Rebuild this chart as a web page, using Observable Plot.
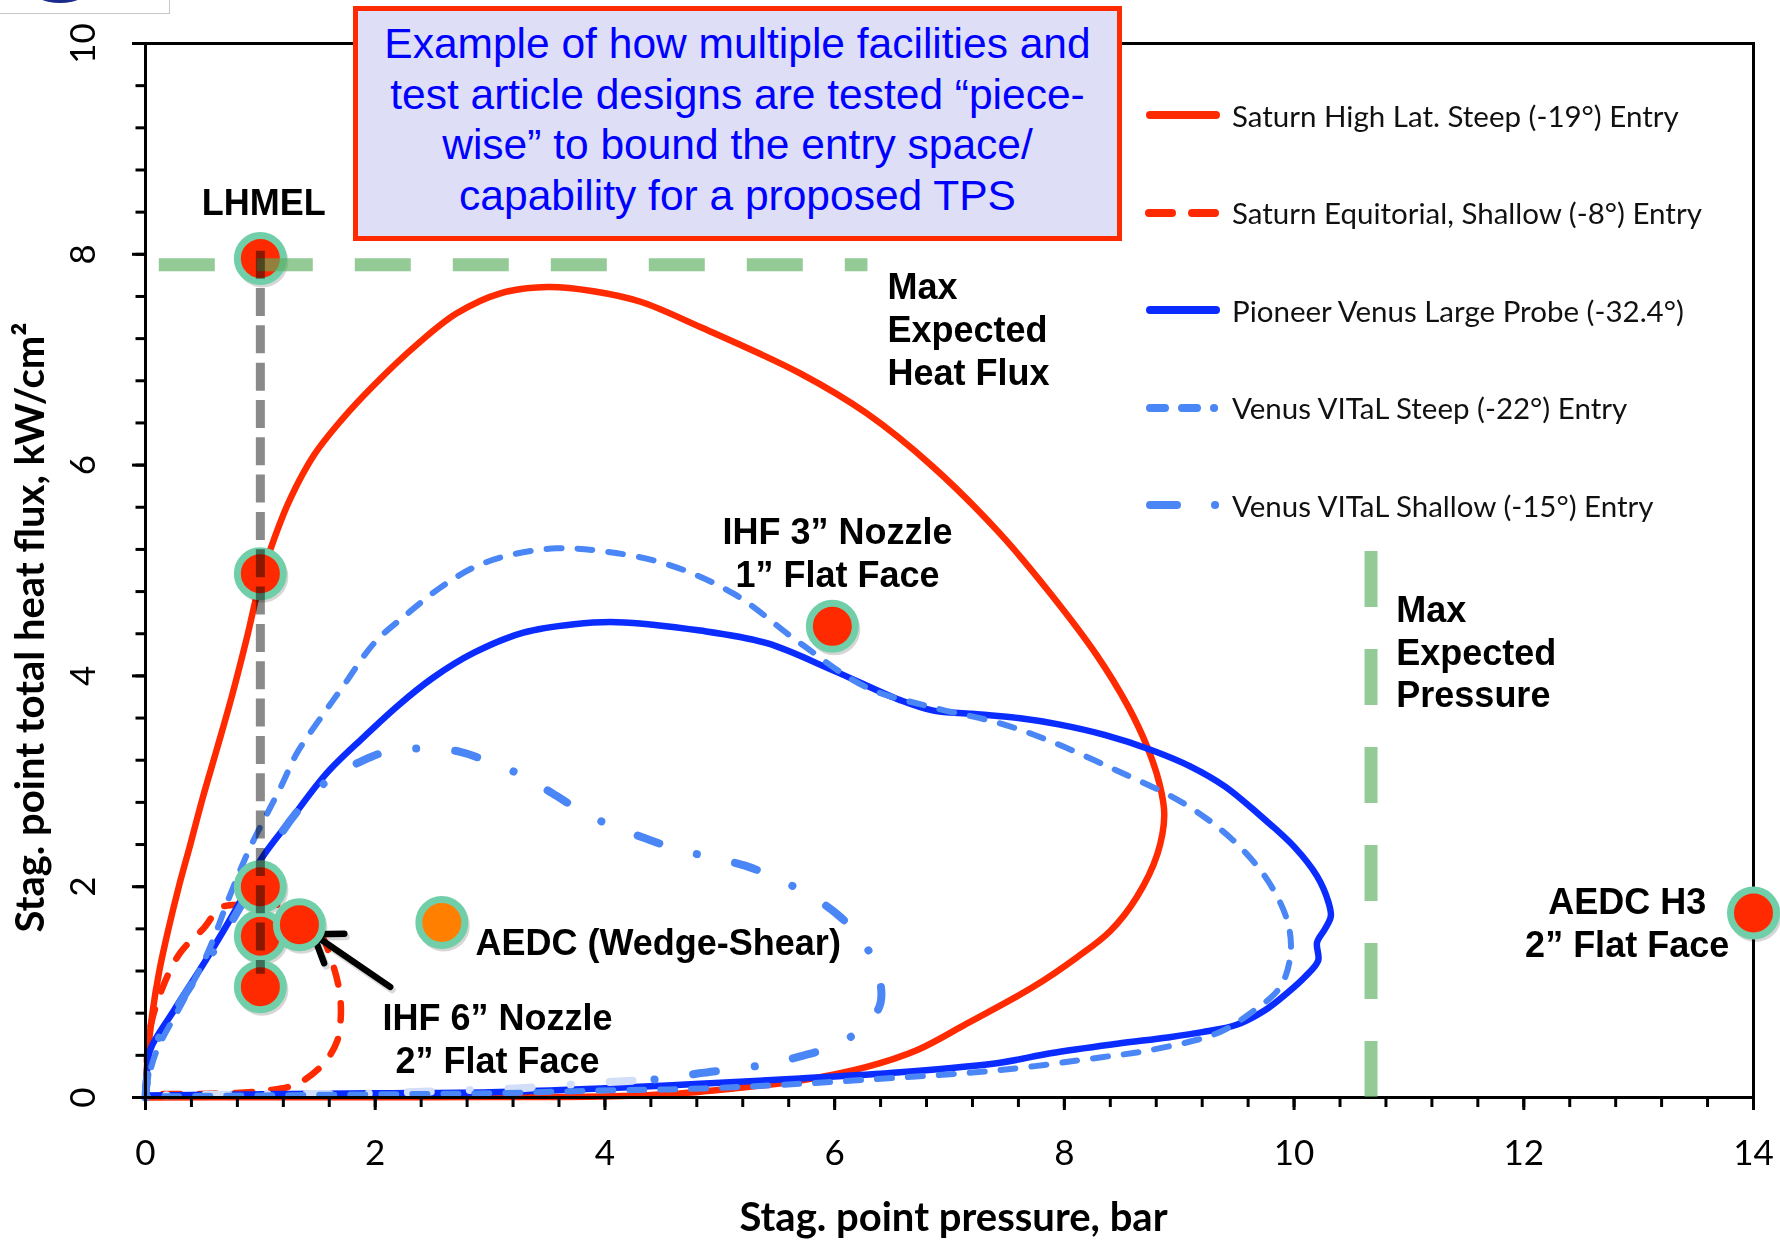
<!DOCTYPE html>
<html><head><meta charset="utf-8">
<script src="https://cdn.jsdelivr.net/npm/d3@7"></script>
<script src="https://cdn.jsdelivr.net/npm/@observablehq/plot@0.6"></script>
<style>
body{margin:0;background:#fff;}
#wrap{position:relative;width:1780px;height:1240px;overflow:hidden;background:#fff;font-family:Lato,sans-serif;}
#wrap > svg{position:absolute;left:0;top:0;}
.note{position:absolute;left:353px;top:6px;width:769px;height:235px;box-sizing:border-box;border:5px solid #ff2a00;background:#dedef6;color:#0000ff;font-family:"Liberation Sans",Arial,sans-serif;font-size:42.5px;line-height:50.5px;text-align:center;padding-top:8px;}
.item{position:absolute;left:1142px;height:40px;display:flex;align-items:center;white-space:nowrap;font-family:Lato,sans-serif;font-size:29.5px;color:#111;}
.item svg{width:80px;height:40px;margin-right:10px;flex:none;}
.logo{position:absolute;left:-2px;top:-40px;width:172px;height:54px;box-sizing:border-box;border:1.5px solid #c8c8c8;background:#fff;}
.logo div{position:absolute;left:30px;top:8px;width:62px;height:34px;border-radius:50%;background:#1b2a8c;}
</style></head>
<body><div id="wrap"></div>
<script>
// ---- data (pressure in bar, heat flux in kW/cm²) ----
const saturnSteep = [[0,0],[0.02,0.4],[0.06,0.8],[0.12,1.2],[0.2,1.6],[0.29,2.0],[0.39,2.4],[0.5,2.85],[0.62,3.3],[0.75,3.8],[0.88,4.35],[1.0,4.9],[1.12,5.3],[1.26,5.68],[1.47,6.1],[1.70,6.42],[1.99,6.76],[2.37,7.15],[2.71,7.44],[3.09,7.63],[3.5,7.69],[3.9,7.65],[4.31,7.55],[4.83,7.31],[5.70,6.87],[6.28,6.49],[6.86,5.98],[7.44,5.35],[7.88,4.78],[8.28,4.2],[8.55,3.72],[8.72,3.33],[8.83,2.97],[8.87,2.68],[8.81,2.31],[8.63,1.90],[8.40,1.58],[8.11,1.33],[7.73,1.05],[7.15,0.70],[6.72,0.45],[6.28,0.29],[5.70,0.16],[5.12,0.085],[4.54,0.03],[3.96,0.01],[3,0.005],[2,0.003],[1,0.002],[0,0]];
const saturnShallow = [[0,0],[0.01,0.3],[0.03,0.6],[0.13,0.99],[0.30,1.37],[0.51,1.61],[0.65,1.80],[0.8,1.83],[1.05,1.84],[1.3,1.78],[1.5,1.6],[1.62,1.3],[1.69,1.0],[1.70,0.76],[1.67,0.54],[1.55,0.32],[1.32,0.13],[1.06,0.067],[0.54,0.035],[0.07,0.03],[0,0.02]];
const pioneerVenus = [[0,0],[0.01,0.2],[0.04,0.45],[0.25,0.83],[0.54,1.33],[0.83,1.87],[1.0,2.25],[1.26,2.63],[1.58,3.08],[1.9,3.42],[2.2,3.72],[2.5,3.98],[2.86,4.22],[3.29,4.41],[3.73,4.49],[4.1,4.51],[4.83,4.43],[5.41,4.31],[5.99,4.05],[6.57,3.77],[6.86,3.67],[7.2,3.64],[7.6,3.6],[7.95,3.54],[8.35,3.44],[8.75,3.3],[9.1,3.14],[9.4,2.95],[9.7,2.68],[10.0,2.38],[10.2,2.1],[10.3,1.85],[10.32,1.72],[10.27,1.6],[10.2,1.47],[10.21,1.3],[10.1,1.15],[9.95,1.0],[9.75,0.83],[9.5,0.69],[9.2,0.62],[8.9,0.57],[8.46,0.51],[7.88,0.42],[7.44,0.33],[6.57,0.24],[5.70,0.18],[4.83,0.13],[3.96,0.085],[3,0.05],[2,0.04],[1,0.03],[0,0.02]];
const vitalSteep = [[0,0],[0.03,0.2],[0.10,0.45],[0.33,0.92],[0.54,1.37],[0.74,1.93],[0.91,2.37],[1.18,2.95],[1.32,3.27],[1.55,3.64],[1.72,3.9],[1.99,4.31],[2.28,4.59],[2.57,4.84],[2.86,5.03],[3.15,5.14],[3.58,5.21],[4.0,5.18],[4.54,5.06],[5.12,4.78],[5.70,4.31],[6.28,3.89],[6.86,3.70],[7.44,3.55],[7.88,3.38],[8.46,3.10],[9.04,2.79],[9.47,2.44],[9.77,2.06],[9.94,1.68],[9.97,1.37],[9.88,1.05],[9.62,0.80],[9.33,0.61],[8.75,0.45],[8.31,0.38],[7.44,0.26],[6.57,0.19],[5.70,0.13],[4.83,0.085],[3.96,0.066],[3,0.04],[2,0.03],[1,0.02],[0,0.01]];
const vitalShallow = [[0,0],[0.05,0.4],[0.3,0.9],[0.6,1.4],[0.9,1.95],[1.15,2.45],[1.35,2.75],[1.60,3.02],[1.86,3.18],[2.13,3.29],[2.44,3.31],[2.74,3.28],[3.0,3.18],[3.29,3.05],[3.55,2.88],[3.79,2.72],[4.07,2.57],[4.35,2.46],[4.61,2.36],[4.92,2.28],[5.22,2.20],[5.47,2.09],[5.75,1.94],[6.01,1.75],[6.20,1.54],[6.36,1.25],[6.40,0.90],[6.27,0.68],[5.99,0.49],[5.70,0.39],[5.44,0.32],[5.12,0.27],[4.82,0.23],[4.54,0.18],[4.24,0.16]];
const vitalShallowTail = [[4.24,0.16],[3.8,0.13],[3.3,0.09],[2.8,0.07],[2,0.04],[1,0.03],[0,0.02]];

const testFacility = ["LHMEL","LHMEL","LHMEL","LHMEL","LHMEL","IHF 6in","IHF 3in","AEDC Wedge-Shear","AEDC H3"];
const testPressure = [1.0, 1.0, 1.0, 1.0, 1.0, 1.34, 5.98, 2.58, 14.0];
const testHeatFlux = [7.96, 4.97, 2.0, 1.53, 1.05, 1.64, 4.47, 1.66, 1.75];

const maxHeatFlux = 7.90, maxHeatFluxSpan = [0.12, 6.29];
const maxPressure = 10.67, maxPressureSpan = [0, 5.18];
const lhmelPressure = 1, lhmelSpan = [8.03, 1.17];
const arrowTail = [2.13, 1.05], arrowHead = [1.46, 1.55];

const labelText = ["LHMEL", "Max\nExpected\nHeat Flux", "IHF 3\u201D Nozzle\n1\u201D Flat Face", "Max\nExpected\nPressure", "AEDC (Wedge-Shear)", "IHF 6\u201D Nozzle\n2\u201D Flat Face", "AEDC H3\n2\u201D Flat Face"];
const labelX = [1.03, 6.46, 6.025, 10.89, 2.873, 3.065, 12.90];
const labelY = [8.50, 7.296, 5.18, 4.237, 1.486, 0.569, 1.67];
const labelAnchor = ["middle","start","middle","start","start","middle","middle"];

const xMajor = [0,2,4,6,8,10,12,14];
const yMajor = [0,2,4,6,8,10];
const xMinor = d3.range(0, 14.001, 0.4);
const yMinor = d3.range(0, 10.001, 0.4);

const legendLabels = ["Saturn High Lat. Steep (-19°) Entry","Saturn Equitorial, Shallow (-8°) Entry","Pioneer Venus Large Probe (-32.4°)","Venus VITaL Steep (-22°) Entry","Venus VITaL Shallow (-15°) Entry"];

// ---- styles ----
const RED = "#ff2a00", BLUE = "#0a2cff", LBLUE = "#4a86f5", PALE = "#d3def8", MINT = "#70cfa8", ORANGE = "#ff8000";
const legendStyle = [
  {color: RED, dash: null, x1: 8, x2: 74},
  {color: RED, dash: "23,20", x1: 7, x2: 73},
  {color: BLUE, dash: null, x1: 8, x2: 74},
  {color: LBLUE, dash: "15,17,15,17,0.1,100", x1: 8, x2: 74},
  {color: LBLUE, dash: "27,38,0.1,100", x1: 8, x2: 74}
];

const pts = testFacility.map((f, i) => ({facility: f, p: testPressure[i], q: testHeatFlux[i]}));
const labels = labelText.map((t, i) => ({text: t, x: labelX[i], y: labelY[i], anchor: labelAnchor[i]}));
const P = d => d[0], Q = d => d[1];

const boldFont = "'Liberation Sans', Arial, sans-serif";
const labelOpts = {x: "x", y: "y", text: "text", lineAnchor: "middle", lineHeight: 1.19, fontSize: 36, fontWeight: "bold", fontFamily: boldFont, fill: "black"};
const arrowOpts = {x1: d => d.tail[0], y1: d => d.tail[1], x2: d => d.head[0], y2: d => d.head[1], headLength: 30, headAngle: 70};

const chart = Plot.plot({
  width: 1780, height: 1240,
  marginLeft: 145, marginRight: 27, marginTop: 43, marginBottom: 143,
  x: {domain: [0, 14], label: null},
  y: {domain: [0, 10], label: null},
  style: {background: "transparent", fontFamily: "Lato, sans-serif", overflow: "visible", color: "black"},
  marks: [
    Plot.line(saturnSteep, {x: P, y: Q, stroke: RED, strokeWidth: 6.5, curve: "catmull-rom"}),
    Plot.line(saturnShallow, {x: P, y: Q, stroke: RED, strokeWidth: 6.5, strokeDasharray: "17,19", strokeLinecap: "round", curve: "catmull-rom"}),
    Plot.line(pioneerVenus, {x: P, y: Q, stroke: BLUE, strokeWidth: 6.5, curve: "catmull-rom"}),
    Plot.line(vitalShallowTail, {x: P, y: Q, stroke: PALE, strokeWidth: 8, strokeDasharray: "23,39,0.1,39", strokeLinecap: "round", curve: "catmull-rom"}),
    Plot.line(vitalSteep, {x: P, y: Q, stroke: LBLUE, strokeWidth: 6, strokeDasharray: "15,16", strokeLinecap: "round", curve: "catmull-rom"}),
    Plot.line(vitalShallow, {x: P, y: Q, stroke: LBLUE, strokeWidth: 8, strokeDasharray: "23,39,0.1,39", strokeLinecap: "round", curve: "catmull-rom"}),
    Plot.frame({stroke: "black", strokeWidth: 3}),
    Plot.axisX(xMinor, {anchor: "bottom", tickSize: 10, strokeWidth: 3, tickFormat: () => ""}),
    Plot.axisX(xMajor, {anchor: "bottom", tickSize: 13, strokeWidth: 3, tickFormat: () => ""}),
    Plot.axisY(yMinor, {anchor: "left", tickSize: 9.5, strokeWidth: 3, tickFormat: () => ""}),
    Plot.axisY(yMajor, {anchor: "left", tickSize: 13, strokeWidth: 3, tickFormat: () => ""}),
    Plot.text(xMajor, {x: d => d, text: d => String(d), frameAnchor: "bottom", dy: 56.5, lineAnchor: "middle", fontSize: 35, fill: "black"}),
    Plot.text(yMajor, {y: d => d, text: d => String(d), frameAnchor: "left", dx: -62, rotate: -90, lineAnchor: "middle", textAnchor: "middle", fontSize: 35, fill: "black"}),
    Plot.text(["Stag. point pressure, bar"], {text: d => d, frameAnchor: "bottom", dx: 4, dy: 121, lineAnchor: "middle", fontSize: 40, fontWeight: "bold", fill: "black"}),
    Plot.text(["Stag. point total heat flux, kW/cm²"], {y: 4.46, text: d => d, frameAnchor: "left", dx: -114, rotate: -90, lineAnchor: "middle", textAnchor: "middle", fontSize: 40, fontWeight: "bold", fill: "black"}),
    // arrow (with soft shadow)
    Plot.arrow([{tail: arrowTail, head: arrowHead}], {...arrowOpts, stroke: "#000", strokeOpacity: 0.15, strokeWidth: 7, dx: 2, dy: 3}),
    Plot.arrow([{tail: arrowTail, head: arrowHead}], {...arrowOpts, stroke: "black", strokeWidth: 6.5}),
    // test points
    Plot.dot(pts, {x: "p", y: "q", r: 26, fill: "#000", fillOpacity: 0.16, dx: 2, dy: 3}),
    Plot.dot(pts, {x: "p", y: "q", r: 23, fill: d => d.facility === "AEDC Wedge-Shear" ? ORANGE : RED, stroke: MINT, strokeWidth: 7}),
    // guide lines
    Plot.ruleY([maxHeatFlux], {x1: maxHeatFluxSpan[0], x2: maxHeatFluxSpan[1], stroke: "#5aad5e", strokeOpacity: 0.65, strokeWidth: 13, strokeDasharray: "56,42"}),
    Plot.ruleX([maxPressure], {y1: maxPressureSpan[0], y2: maxPressureSpan[1], stroke: "#5aad5e", strokeOpacity: 0.65, strokeWidth: 13, strokeDasharray: "56,42"}),
    Plot.ruleX([lhmelPressure], {y1: lhmelSpan[0], y2: lhmelSpan[1], stroke: "#8a8a8a", strokeWidth: 9, strokeDasharray: "28,9.33", mixBlendMode: "multiply"}),
    // annotation labels
    Plot.text(labels.filter(d => d.anchor === "middle"), {...labelOpts, textAnchor: "middle"}),
    Plot.text(labels.filter(d => d.anchor === "start"), {...labelOpts, textAnchor: "start"})
  ]
});

const wrap = document.getElementById("wrap");
wrap.appendChild(chart);

// note box
const note = document.createElement("div");
note.className = "note";
note.innerHTML = "Example of how multiple facilities and<br>test article designs are tested \u201Cpiece-<br>wise\u201D to bound the entry space/<br>capability for a proposed TPS";
wrap.appendChild(note);

// legend
legendLabels.forEach((label, i) => {
  const s = legendStyle[i];
  const item = document.createElement("div");
  item.className = "item";
  item.style.top = (115 + i * 97.5 - 20) + "px";
  item.innerHTML = `<svg viewBox="0 0 80 40"><line x1="${s.x1}" y1="20" x2="${s.x2}" y2="20" stroke="${s.color}" stroke-width="8" stroke-linecap="round"${s.dash ? ` stroke-dasharray="${s.dash}"` : ""}/></svg><span>${label}</span>`;
  wrap.appendChild(item);
});

// logo fragment
const logo = document.createElement("div");
logo.className = "logo";
logo.innerHTML = "<div></div>";
wrap.appendChild(logo);
</script>
</body></html>
